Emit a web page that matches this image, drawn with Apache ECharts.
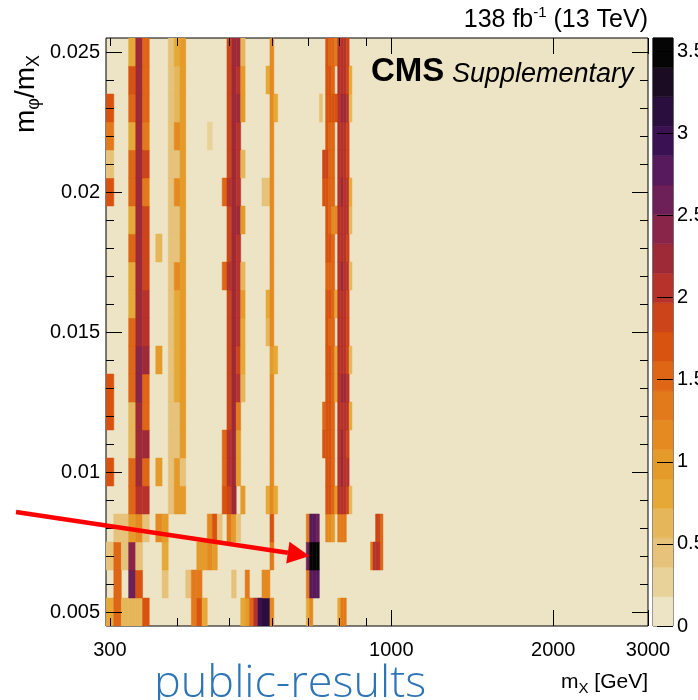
<!DOCTYPE html>
<html><head><meta charset="utf-8">
<script src="https://cdn.jsdelivr.net/npm/echarts@6/dist/echarts.min.js"></script>
<style>html,body{margin:0;padding:0;background:#fff}#c{width:698px;height:700px}</style>
</head><body><div id="c"></div>
<script>
// ---------------- data ----------------
const massBinWidth = 10;            // GeV, m_X bins centred on the listed masses
const ratioBinWidth = 0.001;        // m_phi/m_X bins centred on the row ratios
const xTickLabels = [300, 1000, 2000, 3000];
const xMajorTicks = [1000, 2000, 3000];
const xMinorTicks = [300, 400, 500, 600, 700, 800, 900];
const yTickLabels = [0.005, 0.01, 0.015, 0.02, 0.025];
const yMinorTicks = [0.005,0.006,0.007,0.008,0.009,0.010,0.011,0.012,0.013,0.014,0.015,0.016,0.017,0.018,0.019,0.020,0.021,0.022,0.023,0.024,0.025];
const zTickLabels = [0, 0.5, 1, 1.5, 2, 2.5, 3, 3.5];
const zMax = 3.58;
const levelColors = ['#ede4c6','#e8d299','#e6c27a','#e6b65a','#e6a836','#e59b2a','#e48a21','#e27a1b','#de6614','#d8530f',
                     '#cc4419','#b7322a','#9e2a37','#882548','#6d1f57','#571a5c','#3a1152','#2a0e3e','#1b0c23','#050505'];

// significance per cell: [m_X (GeV), value], one list per m_phi/m_X row
const row025 = [[330,0.8],[340,2.25],[350,1.55],[390,0.45],[400,0.8],[410,0.95],[500,1.85],[510,2.25],[520,2.2],[530,0.6],[600,1.15],[760,1.7],[770,1.55],[780,1.55],[790,1.35],[800,2.0],[810,2.05],[820,2.1],[830,1.9]];
const row024 = [[330,1.7],[340,2.25],[350,1.55],[390,0.45],[400,0.6],[410,0.95],[500,1.85],[510,2.25],[520,2.1],[530,0.95],[590,0.8],[600,1.15],[760,1.7],[770,1.7],[780,1.55],[800,2.0],[810,2.05],[820,2.0],[830,1.9],[840,0.8]];
const row023 = [[300,1.7],[330,1.6],[340,2.3],[350,1.55],[390,0.45],[400,0.6],[410,0.95],[500,1.85],[510,2.3],[520,2.25],[530,1.0],[600,1.15],[610,0.8],[740,0.45],[760,1.7],[770,1.7],[780,1.7],[790,1.7],[800,2.1],[810,2.2],[820,2.2],[830,2.0],[840,0.7]];
const row022 = [[300,1.35],[330,0.8],[340,2.3],[350,1.35],[390,0.45],[400,1.15],[410,0.95],[460,0.35],[500,1.9],[510,2.25],[520,2.05],[600,1.15],[760,1.7],[770,1.55],[780,1.55],[800,2.0],[810,2.1],[820,2.05],[830,1.9]];
const row021 = [[300,0.45],[330,1.6],[340,2.3],[350,1.85],[390,0.45],[400,0.45],[410,0.95],[500,1.95],[510,2.3],[520,2.1],[530,0.7],[600,1.15],[750,1.8],[760,1.8],[770,1.6],[780,1.55],[800,2.0],[810,2.05],[820,2.05],[830,1.8]];
const row020 = [[300,1.7],[330,1.55],[340,2.3],[350,1.35],[390,0.45],[400,1.15],[410,0.95],[490,1.6],[500,2.0],[510,2.3],[520,2.1],[580,0.5],[590,0.5],[600,1.15],[750,1.75],[760,1.75],[770,1.55],[780,1.55],[800,2.05],[810,2.15],[820,2.1],[830,2.0],[840,0.8]];
const row019 = [[330,0.8],[340,2.3],[350,1.9],[390,0.45],[400,0.45],[410,0.95],[500,1.9],[510,2.25],[520,2.2],[530,1.0],[600,1.15],[760,1.7],[770,1.6],[780,1.2],[790,1.1],[800,2.05],[810,2.1],[820,2.1],[830,2.0],[840,0.7]];
const row018 = [[330,1.55],[340,2.3],[350,1.9],[370,0.7],[390,0.45],[400,0.45],[410,0.95],[500,1.9],[510,2.3],[520,2.1],[600,1.15],[760,1.7],[770,1.7],[780,1.55],[800,2.05],[810,2.1],[820,2.1],[830,1.9]];
const row017 = [[330,0.8],[340,2.3],[350,1.9],[390,0.45],[400,1.15],[410,0.95],[490,1.6],[500,2.0],[510,2.3],[520,2.1],[530,0.6],[600,1.15],[760,1.6],[770,1.6],[780,1.5],[800,2.05],[810,2.15],[820,2.1],[830,2.0],[840,0.7]];
const row016 = [[330,0.8],[340,2.3],[350,2.0],[390,0.45],[400,0.8],[410,0.95],[500,1.9],[510,2.25],[520,2.1],[530,0.9],[590,0.8],[600,1.15],[760,1.75],[770,1.7],[780,1.55],[790,0.8],[800,2.05],[810,2.1],[820,2.1],[830,1.9]];
const row015 = [[330,1.6],[340,2.25],[350,2.0],[390,0.45],[400,0.8],[410,0.95],[500,1.9],[510,2.25],[520,2.0],[530,0.8],[590,0.7],[600,1.15],[760,1.7],[770,1.6],[780,1.5],[800,2.05],[810,2.1],[820,2.1],[830,1.9]];
const row014 = [[330,1.55],[340,2.45],[350,2.2],[370,0.9],[390,0.45],[400,0.8],[410,0.9],[500,1.9],[510,2.3],[520,1.8],[530,0.8],[600,1.0],[610,0.8],[760,1.75],[770,1.7],[780,1.6],[790,0.8],[800,2.05],[810,2.1],[820,2.05],[830,1.9],[840,0.7]];
const row013 = [[300,1.75],[330,1.55],[340,2.45],[350,1.6],[390,0.45],[400,0.8],[410,0.9],[500,1.9],[510,2.3],[520,2.0],[530,0.6],[600,1.15],[760,1.75],[770,1.7],[780,1.6],[790,0.8],[800,2.1],[810,2.2],[820,2.15],[830,2.0]];
const row012 = [[300,1.75],[330,0.6],[340,2.3],[350,1.6],[390,0.45],[400,0.5],[410,0.9],[500,1.9],[510,2.3],[520,1.35],[600,1.15],[750,1.6],[760,1.7],[770,1.7],[780,1.55],[800,2.0],[810,2.1],[820,2.1],[830,2.0],[840,0.8]];
const row011 = [[330,0.6],[340,2.3],[350,2.2],[390,0.45],[400,0.45],[410,0.9],[490,1.55],[500,2.1],[510,2.3],[520,1.0],[600,1.15],[750,1.75],[760,1.75],[770,1.7],[780,1.5],[800,2.05],[810,2.15],[820,2.1],[830,1.9]];
const row010 = [[300,1.75],[330,1.55],[340,2.3],[350,1.55],[370,0.9],[390,0.45],[400,0.9],[410,0.5],[490,1.55],[500,2.0],[510,2.3],[520,1.0],[600,1.15],[760,1.75],[770,1.7],[780,1.55],[800,2.05],[810,2.15],[820,2.1],[830,2.0]];
const row009 = [[330,1.55],[340,2.05],[350,2.0],[390,0.45],[400,0.9],[410,0.9],[490,1.7],[500,1.85],[510,2.3],[530,0.9],[590,0.8],[600,1.15],[610,0.8],[760,1.7],[770,1.65],[780,1.55],[790,1.0],[800,2.0],[810,2.05],[820,2.05],[830,1.9],[840,0.7]];
const row008 = [[310,0.45],[320,0.5],[330,1.0],[340,1.2],[350,0.5],[370,1.15],[380,0.9],[460,1.15],[470,1.7],[480,0.45],[500,1.35],[510,1.0],[520,0.45],[600,1.7],[700,1.3],[710,2.75],[720,2.75],[730,2.65],[760,1.15],[770,1.15],[780,1.0],[800,1.35],[810,1.4],[820,1.35],[940,1.8],[950,1.8],[960,1.5]];
const row007 = [[300,0.45],[310,1.55],[320,0.5],[330,2.4],[340,0.45],[380,0.8],[440,0.95],[450,1.0],[460,1.15],[470,1.0],[600,1.35],[700,2.6],[710,3.55],[720,3.55],[730,3.5],[920,1.4],[930,2.0],[940,2.05],[950,2.05],[960,1.6]];
const row006 = [[310,1.55],[330,2.55],[340,1.75],[380,0.45],[420,0.5],[430,1.4],[440,1.35],[510,0.45],[540,1.35],[580,1.2],[590,1.2],[700,1.4],[710,2.75],[720,2.75],[730,2.75]];
const row005 = [[300,0.8],[310,1.55],[320,0.7],[330,0.7],[340,0.7],[350,1.7],[430,1.4],[440,1.75],[450,0.8],[530,0.8],[540,0.95],[550,1.6],[560,2.0],[570,2.95],[580,3.1],[590,3.1],[600,1.2],[700,0.8],[710,1.2],[800,0.8],[810,1.4],[820,1.4]];

const rowRatios = [0.005,0.006,0.007,0.008,0.009,0.010,0.011,0.012,0.013,0.014,0.015,0.016,0.017,0.018,0.019,0.020,0.021,0.022,0.023,0.024,0.025];
const rows = [row005,row006,row007,row008,row009,row010,row011,row012,row013,row014,row015,row016,row017,row018,row019,row020,row021,row022,row023,row024,row025];

// ---------------- build ----------------
const cells = [];
rows.forEach((row, i) => {
  const r = rowRatios[i];
  row.forEach(([m, v]) => {
    cells.push([m - massBinWidth/2, m + massBinWidth/2, r - ratioBinWidth/2, r + ratioBinWidth/2, v]);
  });
});
const dz = zMax / levelColors.length;
const barCells = levelColors.map((c, k) => [0, 1, k*dz, (k+1)*dz, (k+0.5)*dz]);
const pieces = levelColors.map((c, k) => k === levelColors.length-1 ? {gte: k*dz, color: c} : {gte: k*dz, lt: (k+1)*dz, color: c});

const FONT = '"Liberation Sans", Arial, Helvetica, sans-serif';
const GL = 106, GT = 38, GW = 542, GH = 588;

function rectItem(params, api) {
  const p0 = api.coord([api.value(0), api.value(3)]);
  const p1 = api.coord([api.value(1), api.value(2)]);
  const col = api.visual('color');
  return {type: 'rect', shape: {x: p0[0], y: p0[1], width: p1[0]-p0[0], height: p1[1]-p0[1]},
          style: {fill: col, stroke: col, lineWidth: 0.5}};
}

const xBase = {type: 'log', logBase: 10, min: 295, max: 3000, gridIndex: 0, z: 10, splitLine: {show: false},
               axisLine: {show: false, onZero: false}};
const yBase = {type: 'value', min: 0.0045, max: 0.0255, gridIndex: 0, z: 10, splitLine: {show: false},
               axisLine: {show: false, onZero: false}};
const tickStyle = {color: '#000', width: 1};
const tk = (len, vals) => ({show: true, inside: true, length: len, lineStyle: tickStyle, customValues: vals});

const option = {
  animation: false,
  backgroundColor: '#fff',
  grid: [
    {left: GL, top: GT, width: GW, height: GH, show: true, backgroundColor: levelColors[0], borderColor: '#000', borderWidth: 1},
    {left: 653, top: GT, width: 20, height: GH, show: true, borderColor: '#000', borderWidth: 1}
  ],
  xAxis: [
    Object.assign({}, xBase, {position: 'bottom', axisTick: tk(16, xMajorTicks),
      axisLabel: {customValues: xTickLabels, margin: 14, color: '#000', fontFamily: FONT, fontSize: 20, formatter: v => String(Math.round(v))}}),
    Object.assign({}, xBase, {position: 'bottom', axisTick: tk(8, xMinorTicks), axisLabel: {show: false}}),
    Object.assign({}, xBase, {position: 'top', axisTick: tk(16, xMajorTicks), axisLabel: {show: false}}),
    Object.assign({}, xBase, {position: 'top', axisTick: tk(8, xMinorTicks), axisLabel: {show: false}}),
    {type: 'value', gridIndex: 1, min: 0, max: 1, show: false}
  ],
  yAxis: [
    Object.assign({}, yBase, {position: 'left', axisTick: tk(16, yTickLabels),
      axisLabel: {customValues: yTickLabels, margin: 6, color: '#000', fontFamily: FONT, fontSize: 20, formatter: v => String(+(+v).toFixed(4))}}),
    Object.assign({}, yBase, {position: 'left', axisTick: tk(8, yMinorTicks), axisLabel: {show: false}}),
    Object.assign({}, yBase, {position: 'right', axisTick: tk(16, yTickLabels), axisLabel: {show: false}}),
    Object.assign({}, yBase, {position: 'right', axisTick: tk(8, yMinorTicks), axisLabel: {show: false}}),
    {type: 'value', gridIndex: 1, min: 0, max: zMax, position: 'right', z: 10, splitLine: {show: false},
     axisLine: {show: false, onZero: false}, axisTick: tk(16, zTickLabels), axisLabel: {show: false}}
  ],
  visualMap: {type: 'piecewise', show: false, dimension: 4, seriesIndex: [0, 1], pieces: pieces},
  series: [
    {type: 'custom', xAxisIndex: 0, yAxisIndex: 0, data: cells, encode: {x: [0, 1], y: [2, 3]}, renderItem: rectItem, clip: true, z: 2},
    {type: 'custom', xAxisIndex: 4, yAxisIndex: 4, data: barCells, encode: {x: [0, 1], y: [2, 3]}, renderItem: rectItem, z: 2}
  ]
};

const chart = echarts.init(document.getElementById('c'), null, {renderer: 'canvas'});
chart.setOption(option);

// colour-bar tick labels placed at the colour axis positions
const zLabels = zTickLabels.map(v => {
  const p = chart.convertToPixel({xAxisIndex: 4, yAxisIndex: 4}, [1, v]);
  return {type: 'text', z: 50, style: {text: String(v), x: p[0] + 4, y: p[1], verticalAlign: 'middle', font: '20px ' + FONT, fill: '#000'}};
});

// annotation arrow pointing at the left edge of the most significant cell
const tip = chart.convertToPixel({xAxisIndex: 0, yAxisIndex: 0}, [705, 0.007]);
const start = [16, 512];
const ang = Math.atan2(tip[1]-start[1], tip[0]-start[0]);
const headL = 22, headW = 11;
const base = [tip[0] - headL*Math.cos(ang), tip[1] - headL*Math.sin(ang)];
const nx = -Math.sin(ang), ny = Math.cos(ang);

const sub = {fontSize: 18, fontFamily: FONT, verticalAlign: 'bottom', lineHeight: 18, fill: '#000'};
chart.setOption({graphic: zLabels.concat([
  {type: 'text', z: 50, style: {text: '{n|138 fb}{s|-1}{n| (13 TeV)}', x: 648, y: 20, align: 'right', verticalAlign: 'middle',
    rich: {n: {fontSize: 25, fontFamily: FONT, lineHeight: 30, fill: '#000'}, s: {fontSize: 15, fontFamily: FONT, verticalAlign: 'top', lineHeight: 15, fill: '#000'}}}},
  {type: 'text', z: 50, style: {text: 'CMS', x: 371, y: 72, verticalAlign: 'middle', font: 'bold 33px ' + FONT, fill: '#000'}},
  {type: 'text', z: 50, style: {text: 'Supplementary', x: 452, y: 74, verticalAlign: 'middle', font: 'italic 27px ' + FONT, fill: '#000'}},
  {type: 'text', z: 50, x: 26, y: 55, rotation: Math.PI/2, style: {text: '{n|m}{s|φ}{n|/m}{s|X}', align: 'right', verticalAlign: 'middle',
    rich: {n: {fontSize: 28, fontFamily: FONT, lineHeight: 34, fill: '#000'}, s: sub}}},
  {type: 'text', z: 50, style: {text: '{n|m}{s|X}{n| [GeV]}', x: 648, y: 682, align: 'right', verticalAlign: 'middle',
    rich: {n: {fontSize: 21, fontFamily: FONT, lineHeight: 28, fill: '#000'}, s: {fontSize: 15, fontFamily: FONT, verticalAlign: 'bottom', lineHeight: 15, fill: '#000'}}}},
  {type: 'text', z: 50, style: {text: 'public-results', x: 154, y: 684, verticalAlign: 'middle', font: '300 45px "Open Sans", "DejaVu Sans", sans-serif', fill: '#2E75B6'}},
  {type: 'line', z: 60, shape: {x1: start[0], y1: start[1], x2: base[0], y2: base[1]}, style: {stroke: '#ff0000', lineWidth: 4.5}},
  {type: 'polygon', z: 60, shape: {points: [tip, [base[0]+nx*headW, base[1]+ny*headW], [base[0]-nx*headW, base[1]-ny*headW]]}, style: {fill: '#ff0000'}}
])});
</script>
</body></html>
